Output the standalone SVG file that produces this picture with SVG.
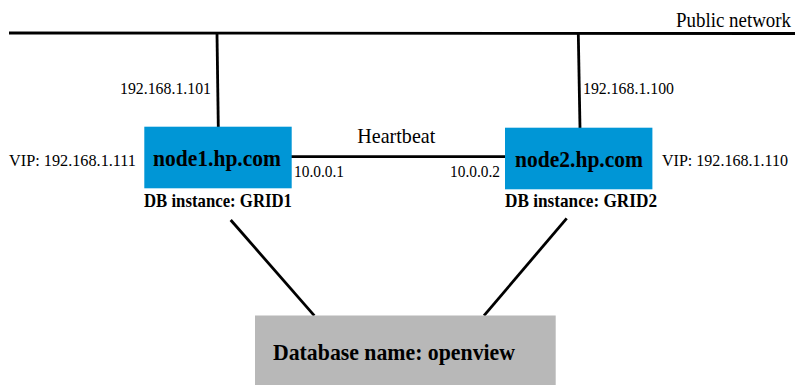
<svg xmlns="http://www.w3.org/2000/svg" width="795" height="385" viewBox="0 0 795 385">
<style>
.ln{stroke:#000;stroke-width:2.8;fill:none}
.t{font-family:"Liberation Serif","DejaVu Serif",serif;fill:#000}
.b{font-family:"Liberation Serif","DejaVu Serif",serif;font-weight:bold;fill:#000}
.node{fill:#0096d6}
.db{fill:#b8b8b8}
</style>
<rect width="795" height="385" fill="#fff"/>
<g id="connectors">
<line class="ln" x1="9" y1="33" x2="795" y2="33.5"/>
<line class="ln" x1="217" y1="34" x2="218.3" y2="127"/>
<line class="ln" x1="578.3" y1="34" x2="580" y2="128"/>
<line class="ln" x1="291" y1="156.7" x2="505" y2="156.7"/>
<line class="ln" x1="230.7" y1="220" x2="314.3" y2="315.7"/>
<line class="ln" x1="566.7" y1="218.3" x2="484" y2="315.7"/>
</g>
<g id="labels">
<text class="t" x="791" y="26.7" font-size="21" text-anchor="end" textLength="115" lengthAdjust="spacingAndGlyphs">Public network</text>
<text class="t" x="120" y="94.3" font-size="17.5" textLength="91" lengthAdjust="spacingAndGlyphs">192.168.1.101</text>
<text class="t" x="583" y="94.3" font-size="17.5" textLength="91" lengthAdjust="spacingAndGlyphs">192.168.1.100</text>
<text class="t" x="357.3" y="143.3" font-size="22" textLength="78" lengthAdjust="spacingAndGlyphs">Heartbeat</text>
<text class="t" x="294" y="177.3" font-size="16.5" textLength="50" lengthAdjust="spacingAndGlyphs">10.0.0.1</text>
<text class="t" x="450" y="177.3" font-size="16.5" textLength="50" lengthAdjust="spacingAndGlyphs">10.0.0.2</text>
<text class="t" x="9" y="166" font-size="17.5" textLength="127" lengthAdjust="spacingAndGlyphs">VIP: 192.168.1.111</text>
<text class="t" x="788" y="166" font-size="17.5" text-anchor="end" textLength="126" lengthAdjust="spacingAndGlyphs">VIP: 192.168.1.110</text>
</g>
<g id="node1">
<rect class="node" x="144.3" y="126.7" width="147.4" height="61.6"/>
<text class="b" x="153" y="165.7" font-size="23" textLength="128" lengthAdjust="spacingAndGlyphs">node1.hp.com</text>
<text class="b" x="144" y="207.3" font-size="19" textLength="148" lengthAdjust="spacingAndGlyphs">DB instance: GRID1</text>
</g>
<g id="node2">
<rect class="node" x="505" y="127.7" width="147.4" height="61.6"/>
<text class="b" x="515" y="166.5" font-size="23" textLength="128" lengthAdjust="spacingAndGlyphs">node2.hp.com</text>
<text class="b" x="505" y="207.3" font-size="19" textLength="152" lengthAdjust="spacingAndGlyphs">DB instance: GRID2</text>
</g>
<g id="database">
<rect class="db" x="255" y="315.5" width="300.7" height="69.5"/>
<text class="b" x="273" y="360" font-size="24" textLength="242" lengthAdjust="spacingAndGlyphs">Database name: openview</text>
</g>
</svg>
